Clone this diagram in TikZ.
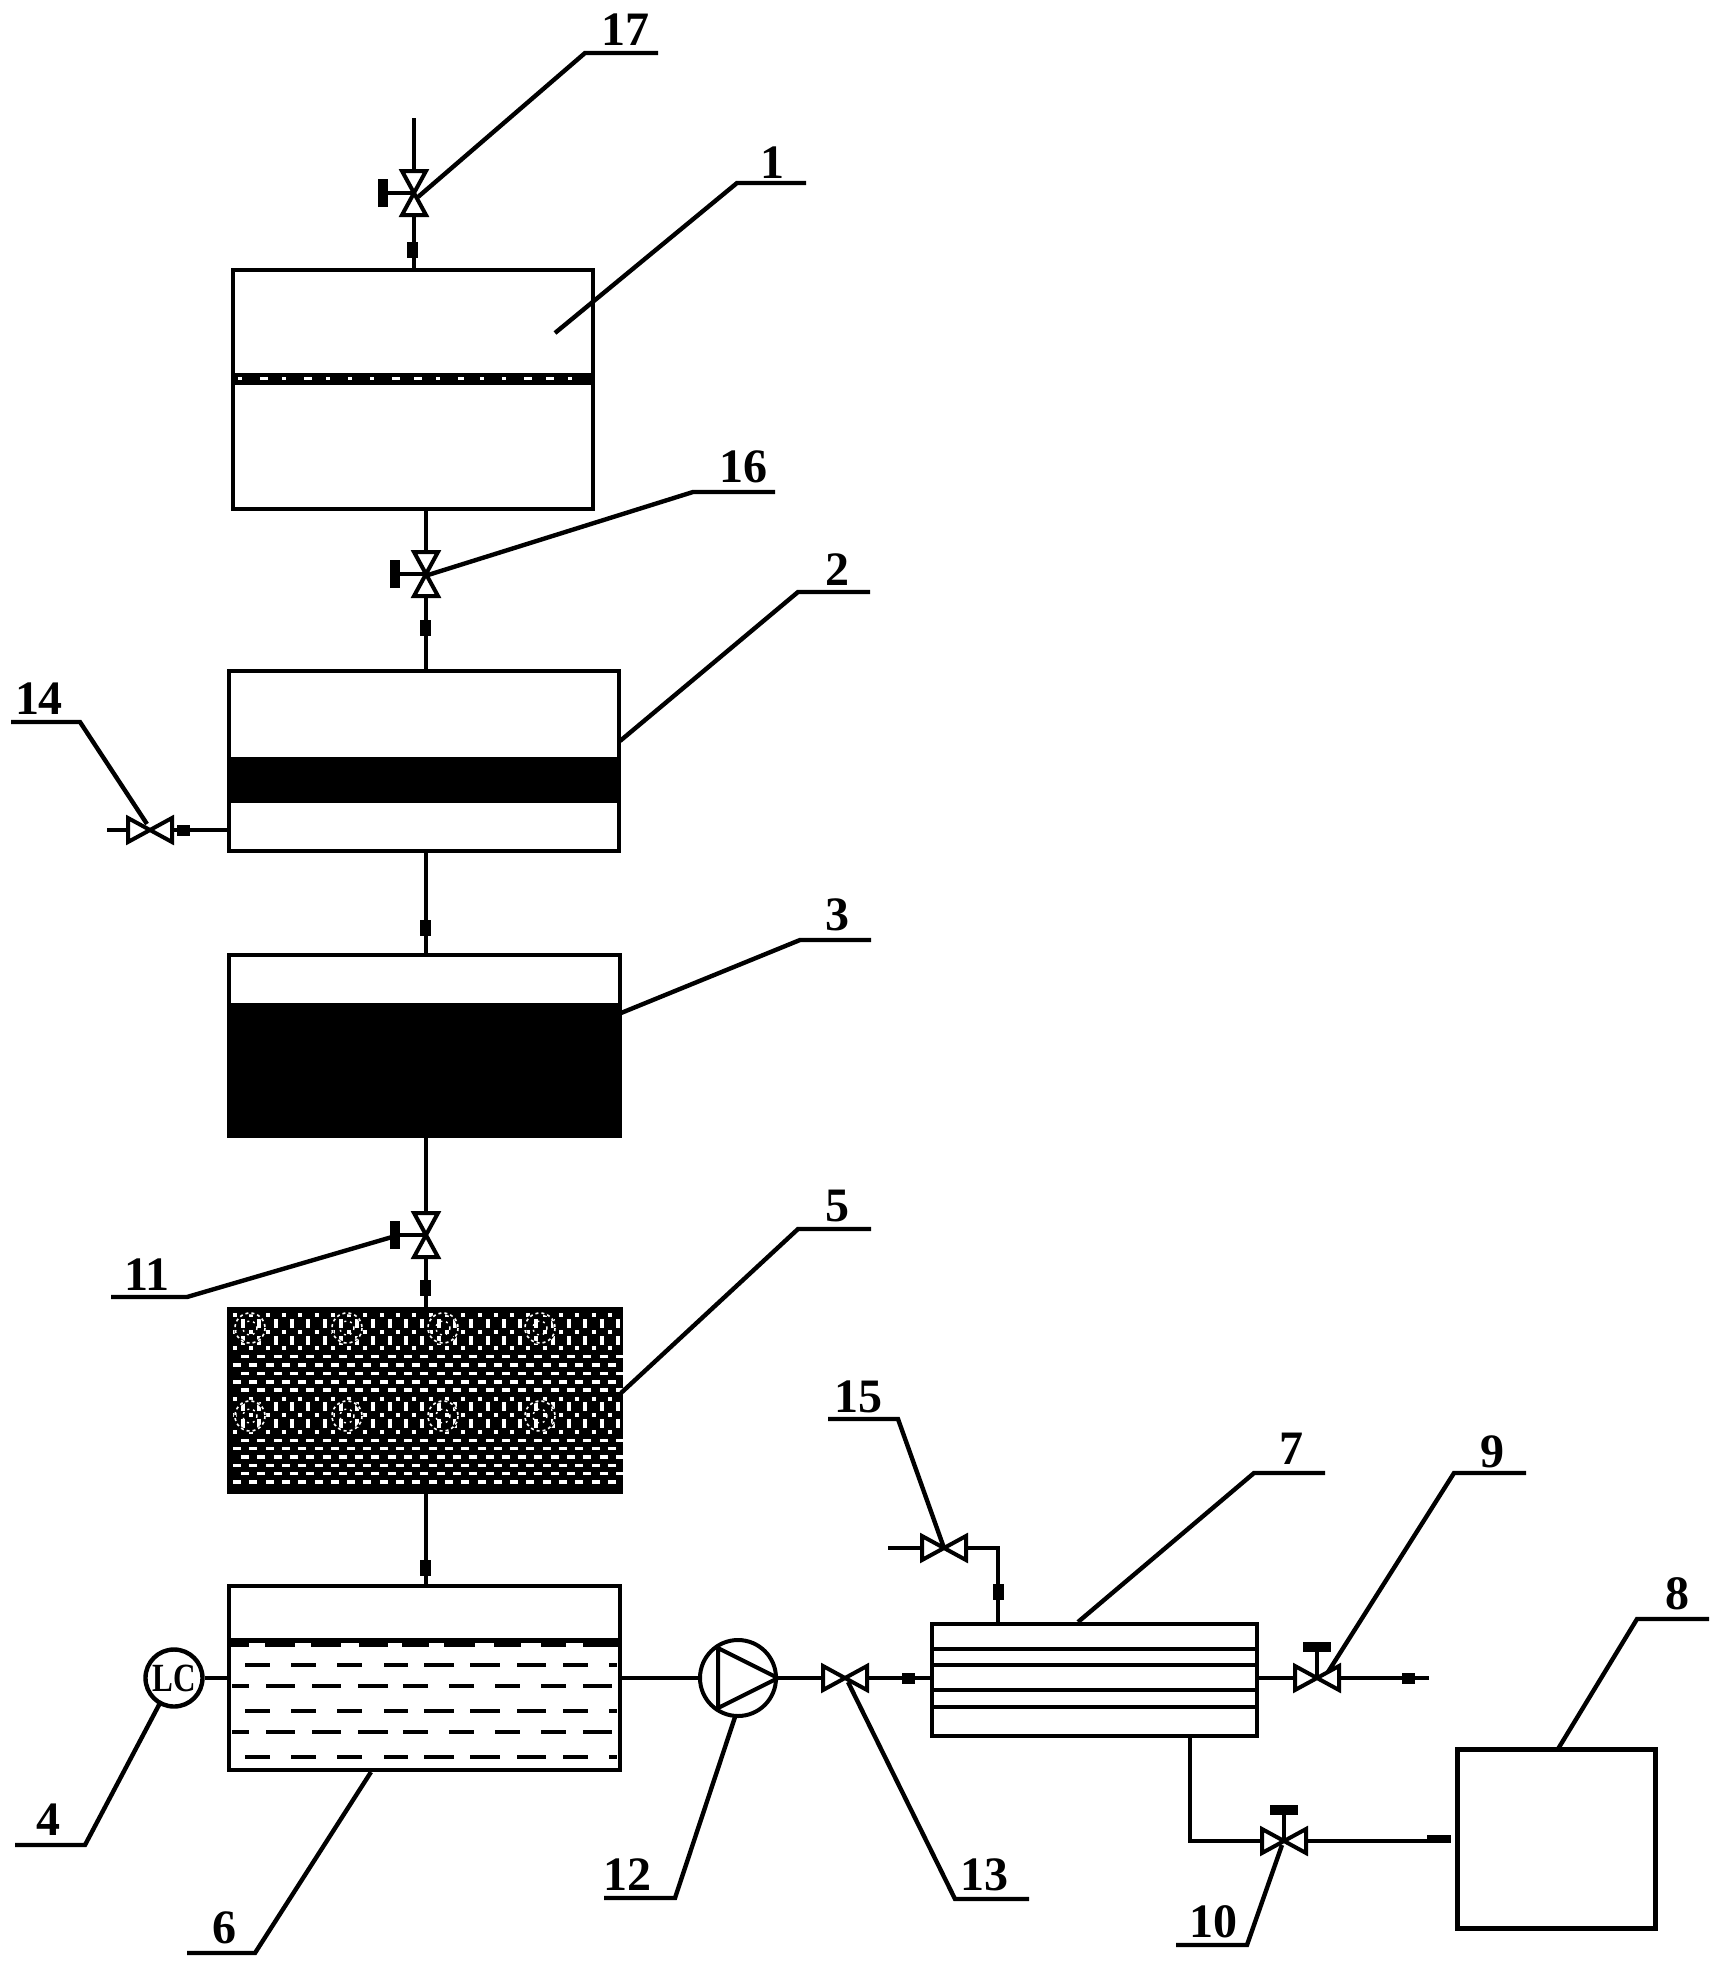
\documentclass[tikz,border=0pt]{standalone}
\usepackage{fontspec}
\usepackage{graphicx}
\setmainfont{Liberation Serif}
\tikzset{
  line/.style={line width=2pt,black,line cap=butt,line join=miter},
  vessel/.style={draw=black,line width=2pt,inner sep=0pt,fill=white},
  lab/.style={inner sep=0pt,font=\fontsize{24}{24}\selectfont\bfseries},
  blockv/.style={fill=black,inner sep=0pt,minimum width=5.5pt,minimum height=8pt},
  blockh/.style={fill=black,inner sep=0pt,minimum width=6.5pt,minimum height=5.5pt},
  pics/bowtie/.style={code={\draw[line,fill=white] (-22,-12)--(22,12)--(22,-12)--(-22,12)--cycle;}},
  pics/handle/.style={code={
    \draw[line] (0,0)--(30,0);
    \draw[line width=5pt,black] (31,-14)--(31,14);}}
}
\begin{document}
\begin{tikzpicture}[x=0.5pt,y=-0.5pt]
\useasboundingbox (0,0) rectangle (1725,1965);
\fill[white] (0,0) rectangle (1725,1965);

% ---- vessels
\node[vessel,minimum width=180pt,minimum height=119.5pt] (b1) at (413,389.5) {};
\node[vessel,minimum width=195pt,minimum height=90pt]    (b2) at (424,761) {};
\node[vessel,minimum width=195.5pt,minimum height=90.5pt] (b3) at (424.5,1045.5) {};
\node[vessel,minimum width=196pt,minimum height=91.5pt,fill=black] (b5) at (424.5,1400) {};
\node[vessel,minimum width=195.5pt,minimum height=92pt]  (b6) at (424.5,1678) {};
\node[vessel,minimum width=162.5pt,minimum height=56pt]  (b7) at (1094.5,1680) {};
\node[vessel,line width=2.5pt,minimum width=99pt,minimum height=89.5pt] (b8) at (1556,1838.5) {};
\node[circle,draw=black,line width=2.2pt,fill=white,minimum size=28.5pt,inner sep=0pt] (lc) at (174,1678) {\fontsize{20}{20}\selectfont\bfseries\scalebox{.78}[1]{LC}};
\node[circle,draw=black,line width=2pt,fill=white,minimum size=38pt,inner sep=0pt] (pump) at (738,1678) {};

% ---- valve positions
\coordinate (v17) at (414,193);
\coordinate (v16) at (426,574);
\coordinate (v11) at (426,1235);
\coordinate (v14) at (150,830);
\coordinate (v15) at (944,1548);
\coordinate (v13) at (845,1678);
\coordinate (v9)  at (1317,1678);
\coordinate (v10) at (1284,1841);
\coordinate (in17) at (414,118);
\coordinate (out14) at (107,830);
\coordinate (in15) at (888,1548);
\coordinate (cor15) at (998,1548);
\coordinate (out9) at (1429,1678);
\coordinate (tap10) at (1190,1736);
\coordinate (cor10) at (1190,1841);
\coordinate (end10) at (1451,1841);

% ---- pipes
\draw[line] (in17) -- (v17) -- (v17 |- b1.north);
\draw[line] (v16 |- b1.south) -- (v16) -- (v16 |- b2.north);
\draw[line] (v16 |- b2.south) -- (v16 |- b3.north);
\draw[line] (v11 |- b3.south) -- (v11) -- (v11 |- b5.north);
\draw[line] (v11 |- b5.south) -- (v11 |- b6.north);
\draw[line] (out14) -- (v14) -- (v14 -| b2.west);
\draw[line] (lc) -- (lc -| b6.west);
\draw[line] (pump -| b6.east) -- (pump.west);
\draw[line] (pump.east) -- (v13) -- (v13 -| b7.west);
\draw[line] (in15) -- (v15) -- (cor15) -- (cor15 |- b7.north);
\draw[line] (v9 -| b7.east) -- (v9) -- (out9);
\draw[line] (tap10) -- (cor10) -- (v10) -- (end10);

% ---- inside vessel 1
\fill (b1.west |- 0,373) rectangle (b1.east |- 0,385);
\foreach \i/\w in {0/4,1/8,2/4,3/8,4/4,5/4,6/4,7/8,8/8,9/4,10/6,11/4,12/4,13/8,14/8,15/4}
  \fill[white] ({238+22*\i},377) rectangle ++(\w,3);

% ---- inside vessel 2, 3
\fill (b2.west |- 0,757) rectangle (b2.east |- 0,803);
\fill (b3.west |- 0,1003) rectangle (b3.east |- 0,1136);

% ---- inside vessel 5: perforated packing
\foreach \j in {0,...,20}{
  \pgfmathsetmacro{\yy}{1315+8.35*\j}
  \pgfmathtruncatemacro{\odd}{mod(\j,2)}
  \pgfmathtruncatemacro{\horz}{(\j>=5 && \j<=9) || (\j>=15) ? 1 : 0}
  \pgfmathsetmacro{\ww}{\horz==1 ? 8 : 4}
  \pgfmathsetmacro{\hh}{\horz==1 ? 3.4 : (\odd==1 ? 9 : 4)}
  \foreach \i in {0,...,23}{
    \fill[white] ({233+16.3*\i+8*\odd},\yy-\hh/2) rectangle ++(\ww,\hh);
  }
}
\foreach \cx in {250,347,443,540}\foreach \cy in {1328,1416}{
  \draw[black,line width=1.2pt] (\cx,\cy) circle[radius=15];
  \draw[white,line width=.8pt,dash pattern=on 1.5pt off 1.5pt] (\cx,\cy) circle[radius=15];
  \draw[white,line width=.7pt,dash pattern=on 1pt off 2pt] (\cx,\cy) circle[radius=7];
}

% ---- inside tank 6
\fill (b6.west |- 0,1638) rectangle (b6.east |- 0,1647);
\foreach \a/\b in {249/265,295/311,341/359,388/402,429/444,475/494,521/541,566/583}
  \fill[white] (\a,1643) rectangle (\b,1648);
\foreach \yy in {1665,1711,1757}
  \foreach \a/\b in {245/270,291/316,337/362,384/408,424/454,470/500,517/546,563/588,609/617}
    \draw[line] (\a,\yy) -- (\b,\yy);
\foreach \yy in {1686,1732}
  \foreach \a/\b in {232/249,266/295,312/341,358/388,403/428,449/474,495/520,541/566,583/612}
    \draw[line] (\a,\yy) -- (\b,\yy);

% ---- inside membrane unit 7
\foreach \yy in {1649,1665,1690,1707}
  \draw[line] (b7.west |- 0,\yy) -- (b7.east |- 0,\yy);

% ---- pump triangle
\coordinate (pa) at (718,1648);
\coordinate (pb) at (718,1708);
\draw[line] (pa) -- (pump.east) -- (pb) -- cycle;

% ---- valves
\pic[rotate=90] at (v17) {bowtie};
\pic[rotate=90] at (v16) {bowtie};
\pic[rotate=90] at (v11) {bowtie};
\pic at (v14) {bowtie};
\pic at (v15) {bowtie};
\pic at (v13) {bowtie};
\pic at (v9)  {bowtie};
\pic at (v10) {bowtie};
\pic[rotate=180] at (v17) {handle};
\pic[rotate=180] at (v16) {handle};
\pic[rotate=180] at (v11) {handle};
\pic[rotate=90] at (v9)  {handle};
\pic[rotate=90] at (v10) {handle};

% ---- small in-line blocks
\node[blockv] (f17) at (412,250) {};
\node[blockv] (f16) at (425,628) {};
\node[blockv] (f23) at (425,928) {};
\node[blockv] (f11) at (425,1288) {};
\node[blockv] (f56) at (425,1568) {};
\node[blockv] (f15) at (998,1592) {};
\node[blockh] (f14) at (183,830) {};
\node[blockh] (f13) at (908,1678) {};
\node[blockh] (f9)  at (1408,1678) {};
\node[blockh,minimum width=12pt,minimum height=4pt] (f10) at (1439,1839) {};

% ---- leaders and labels
\foreach \n/\sx/\sy/\kx/\ky/\ex/\tx/\ty in {
  17/418/197/585/53/658/625/30,
  1/555/333/737/183/806/772/163,
  16/428/575/693/492/775/743/467,
  2/620/741/798/592/870/837/570,
  14/147/824/80/722/11/39/699,
  3/621/1013/800/940/871/837/915,
  11/392/1237/187/1297/111/147/1275,
  5/621/1393/798/1229/871/837/1206,
  15/944/1548/898/1419/828/858/1397,
  7/1078/1622/1254/1473/1325/1291/1449,
  9/1328/1672/1454/1473/1526/1492/1452,
  8/1558/1749/1637/1619/1709/1677/1594,
  4/160/1703/85/1845/15/48/1820,
  6/371/1772/255/1953/187/224/1928,
  12/735/1717/675/1898/604/627/1875,
  13/848/1682/955/1899/1029/984/1875,
  10/1282/1845/1247/1945/1176/1213/1922}{
  \coordinate (s\n) at (\sx,\sy);
  \coordinate (k\n) at (\kx,\ky);
  \coordinate (e\n) at (\ex,\ky);
  \node[lab] (t\n) at (\tx,\ty) {\n};
  \draw[line,line width=2.2pt] (s\n) -- (k\n) -- (e\n);
}
\end{tikzpicture}
\end{document}
